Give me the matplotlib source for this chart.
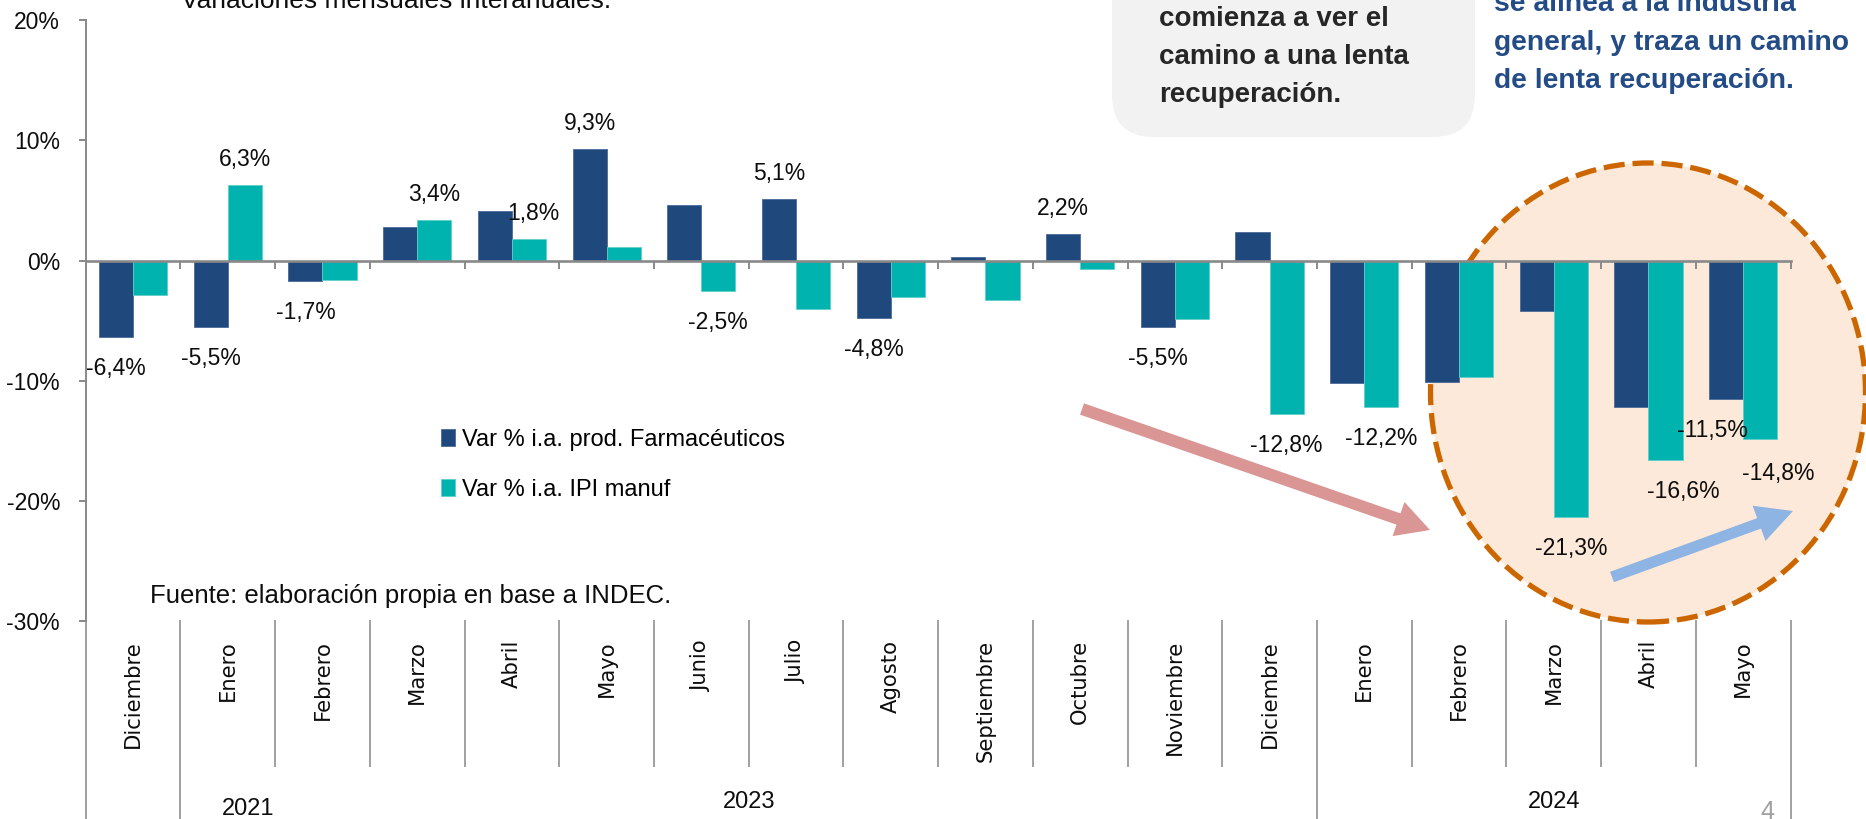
import numpy as np
import matplotlib
matplotlib.use('Agg')
import matplotlib.pyplot as plt
import matplotlib.transforms as mtransforms
from matplotlib.patches import Ellipse, FancyBboxPatch
from matplotlib.ticker import NullLocator

# ---------------- data ----------------
months = ['Diciembre', 'Enero', 'Febrero', 'Marzo', 'Abril', 'Mayo', 'Junio', 'Julio',
          'Agosto', 'Septiembre', 'Octubre', 'Noviembre', 'Diciembre', 'Enero',
          'Febrero', 'Marzo', 'Abril', 'Mayo']
farma = [-6.4, -5.5, -1.7, 2.8, 4.1, 9.3, 4.6, 5.1, -4.8, 0.3, 2.2, -5.5, 2.4,
         -10.2, -10.1, -4.2, -12.2, -11.5]
ipi = [-2.9, 6.3, -1.6, 3.4, 1.8, 1.1, -2.5, -4.0, -3.0, -3.3, -0.7, -4.9, -12.8,
       -12.2, -9.7, -21.3, -16.6, -14.8]
series_names = ['Var % i.a. prod. Farmacéuticos', 'Var % i.a. IPI manuf']
ytick_values = [20, 10, 0, -10, -20, -30]
year_labels = ['2021', '2023', '2024']
group_bounds = [0, 1, 13, 18]          # month-index boundaries of the year groups
labeled_farma = [0, 1, 2, 5, 7, 8, 10, 11, 17]
labeled_ipi = [1, 3, 4, 6, 12, 13, 15, 16, 17]
box_lines = ['comienza a ver el', 'camino a una lenta', 'recuperación.']
blue_lines = ['se alinea a la industria', 'general, y traza un camino',
              'de lenta recuperación.']
title_text = 'Variaciones mensuales interanuales.'
source_text = 'Fuente: elaboración propia en base a INDEC.'
page_number = '4'

# ---------------- style ----------------
DARK = '#1F497D'
TEAL = '#00B3AF'
AXGRAY = '#898989'
SEPGRAY = '#A0A0A0'
plt.rcParams['font.family'] = ['Liberation Sans', 'DejaVu Sans']

W, H, DPI = 1866, 819, 100
fig = plt.figure(figsize=(W / DPI, H / DPI), dpi=DPI)
fig.patch.set_facecolor('white')


def fx(x):
    return x / W


def fy(y):
    return 1 - y / H


ax_left, ax_right = 85.7, 1790.5
ax_top, ax_bot = 19.9, 621.4
ax = fig.add_axes([fx(ax_left), fy(ax_bot), (ax_right - ax_left) / W, (ax_bot - ax_top) / H])
ax.set_facecolor('none')

n = len(months)
xc = np.arange(n) + 0.5
bw = 0.36
b1 = ax.bar(xc - bw / 2, farma, bw, color=DARK, edgecolor='#4A6A98', linewidth=0.6, zorder=3)
b2 = ax.bar(xc + bw / 2, ipi, bw, color=TEAL, edgecolor='#5ECFCB', linewidth=0.6, zorder=3)
ax.set_xlim(0, n)
ax.set_ylim(-30, 20)

# spines / ticks
for s in ['top', 'right']:
    ax.spines[s].set_visible(False)
ax.spines['bottom'].set_position(('data', 0))
ax.spines['bottom'].set_color(AXGRAY)
ax.spines['bottom'].set_linewidth(1.9)
ax.spines['bottom'].set_zorder(4)
ax.spines['left'].set_color(AXGRAY)
ax.spines['left'].set_linewidth(1.4)
ax.set_xticks([])
ax.set_xticks(np.arange(0, n + 1), minor=True)
ax.tick_params(axis='x', which='minor', direction='out', length=6, width=1.4,
               color=AXGRAY, labelbottom=False)
ax.set_yticks(ytick_values)
ax.set_yticklabels([f'{v}%' for v in ytick_values])
ax.tick_params(axis='y', direction='out', length=5, width=1.4, color=AXGRAY,
               pad=13.5, labelsize=16.5, labelcolor='#0D0D0D')

# month labels on a secondary axis at the bottom of the plot area
sec = ax.secondary_xaxis('bottom')
sec.set_xticks(xc)
sec.set_xticklabels(months, rotation=90, fontsize=15.2, family='DejaVu Sans', color='#0D0D0D')
sec.xaxis.set_minor_locator(NullLocator())
sec.tick_params(axis='x', length=0, pad=13.4)
sec.spines['bottom'].set_visible(False)

# category separators
bt = mtransforms.blended_transform_factory(ax.transData, fig.transFigure)
for k in range(0, n + 1):
    y_end = 0 if k in group_bounds else fy(766)
    ax.plot([k, k], [fy(ax_bot), y_end], transform=bt, color=SEPGRAY, lw=1.4,
            clip_on=False, zorder=1)

# year labels
year_x = [1.71, (group_bounds[1] + group_bounds[2]) / 2, (group_bounds[2] + group_bounds[3]) / 2]
year_y = [809, 802, 802]
for lab, xx, yy in zip(year_labels, year_x, year_y):
    ax.text(xx, fy(yy), lab, transform=bt, ha='center', va='center', fontsize=17,
            color='#0D0D0D', clip_on=False)

# highlight ellipse (in inches)
ell = Ellipse((1648 / DPI, (H - 392.5) / DPI), 435 / DPI, 459 / DPI,
              transform=fig.dpi_scale_trans, facecolor='#FDE9D9', edgecolor='#CC6600',
              linewidth=3.8, linestyle=(0, (4, 1.5)), zorder=0.5, clip_on=False)
ax.add_patch(ell)

# gray rounded box
box = FancyBboxPatch((1112 / DPI, (H - 137) / DPI), (1475 - 1112) / DPI, 2.0,
                     boxstyle='round,pad=0,rounding_size=0.42',
                     transform=fig.dpi_scale_trans, facecolor='#F2F2F2',
                     edgecolor='none', zorder=0.4, clip_on=False)
ax.add_patch(box)

# data labels
def fmt(v):
    return f'{v:.1f}'.replace('.', ',') + '%'


extra = {('i', 16): (18, 0), ('f', 17): (-14, 0), ('i', 17): (18, -3), ('i', 4): (4, 0)}
for key, idxs, vals, off in [('f', labeled_farma, farma, -bw / 2), ('i', labeled_ipi, ipi, bw / 2)]:
    for i in idxs:
        v = vals[i]
        dx, ddy = extra.get((key, i), (0, 0))
        dy = 19 if v >= 0 else -38
        ax.annotate(fmt(v), xy=(xc[i] + off, v), xytext=(dx, dy + ddy),
                    textcoords='offset pixels', ha='center', va='baseline',
                    fontsize=16.5, color='#0D0D0D', zorder=5, annotation_clip=False)

# legend
ax.legend(handles=[b1, b2], labels=series_names, loc='upper left',
          bbox_to_anchor=(441 / DPI, (H - 429) / DPI), bbox_transform=fig.dpi_scale_trans,
          frameon=False, borderpad=0, borderaxespad=0, handlelength=0.6,
          handleheight=0.7, handletextpad=0.3, labelspacing=1.17,
          prop={'size': 17})

# arrows
ax.annotate('', xy=(1430, H - 530), xycoords='figure pixels',
            xytext=(1082, H - 409), textcoords='figure pixels',
            arrowprops=dict(arrowstyle='simple,head_length=2.4,head_width=2.6,tail_width=0.86',
                            mutation_scale=10, fc='#D99694', ec='none', shrinkA=0, shrinkB=0),
            annotation_clip=False)
ax.annotate('', xy=(1793, H - 511), xycoords='figure pixels',
            xytext=(1612, H - 577), textcoords='figure pixels',
            arrowprops=dict(arrowstyle='simple,head_length=2.6,head_width=2.7,tail_width=0.8',
                            mutation_scale=10, fc='#8DB4E2', ec='none', shrinkA=0, shrinkB=0),
            annotation_clip=False)

# texts
fig.text(fx(396), fy(8), title_text, ha='center', va='baseline', fontsize=19, color='#0D0D0D')
fig.text(fx(150), fy(603), source_text, ha='left', va='baseline', fontsize=18.5, color='#0D0D0D')
for j, line in enumerate(box_lines):
    fig.text(fx(1159), fy(26 + 38 * j), line, ha='left', va='baseline', fontsize=20,
             fontweight='bold', color='#262626')
for j, line in enumerate(blue_lines):
    fig.text(fx(1494), fy(11 + 38.5 * j), line, ha='left', va='baseline', fontsize=20.3,
             fontweight='bold', color='#234C87')
fig.text(fx(1767), fy(812), page_number, ha='center', va='center', fontsize=18, color='#A0A0A0')

fig.savefig('out.png', dpi=DPI, facecolor='white')
